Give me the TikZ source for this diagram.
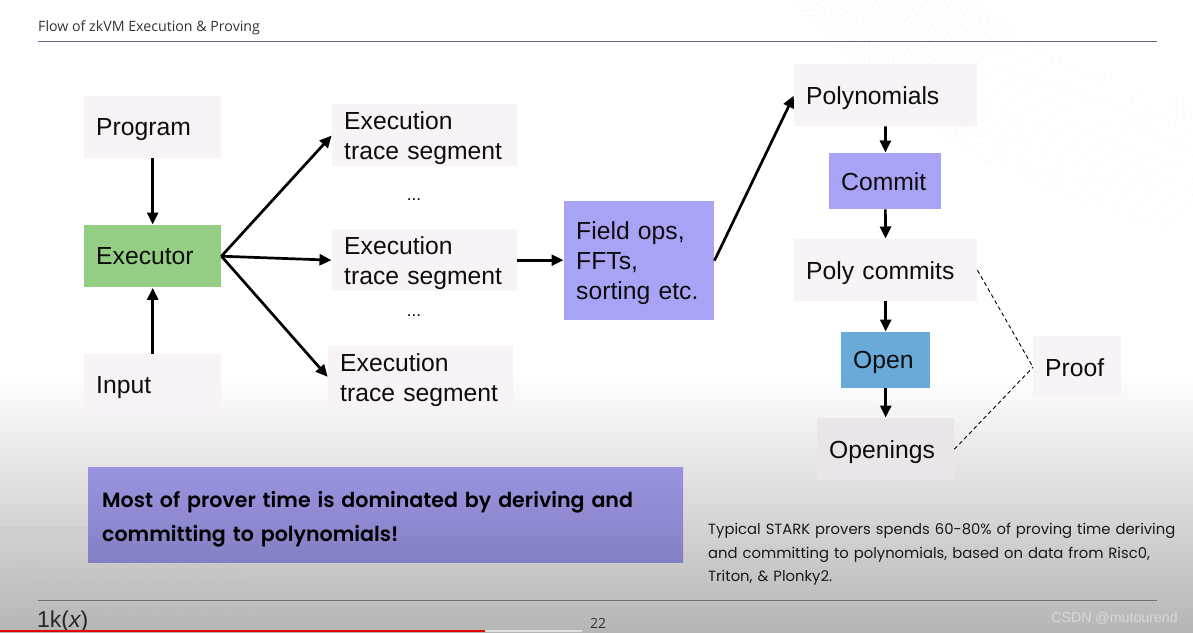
\documentclass[tikz,border=0pt]{standalone}
\usepackage{fontspec}
\setmainfont{Liberation Sans}
\newfontfamily\titlefont{Open Sans}
\newfontfamily\popfont{Poppins}[BoldFont={Poppins SemiBold}]
\usetikzlibrary{arrows.meta}
\definecolor{pale}{HTML}{F7F3F7}
\definecolor{palelow}{HTML}{E9E5E9}
\definecolor{greenbox}{HTML}{94CE85}
\definecolor{violetbox}{HTML}{A8A3F5}
\definecolor{bluebox}{HTML}{69AAD8}
\definecolor{calltop}{HTML}{9A94E0}
\definecolor{callbot}{HTML}{8480C4}
\tikzset{
  x=1pt,y=-1pt,
  bx/.style n args={3}{anchor=north west,inner xsep=12pt,inner ysep=0pt,
    text width=#1pt-24pt,minimum height=#2pt,align=left,fill=#3,
    font=\fontsize{24.7}{30}\selectfont,text=black!95,
    execute at end node={\par\kern-\prevdepth}},
  flow/.style={line width=2.7pt,-{Triangle[length=12pt,width=11pt]},shorten >=0.5pt},
  dash link/.style={line width=0.9pt,dash pattern=on 4pt off 3pt},
  rulebar/.style={line width=0.9pt,draw=black!50},
  wave/.style={line width=0.35pt,draw=black!13,dotted},
}
\begin{document}
\begin{tikzpicture}
\useasboundingbox (0,0) rectangle (1193,632);
% background
\fill[white] (0,0) rectangle (1193,632);
\shade[top color=white,bottom color=black!29,shading angle=0] (0,375) rectangle (1193,632);
% faint arc pattern
\begin{scope}
\clip (790,0) .. controls (850,70) and (920,125) .. (1000,170) .. controls (1070,205) and (1130,225) .. (1193,245) -- (1193,100) .. controls (1090,70) and (1030,40) .. (975,0) -- cycle;
\foreach \i in {0,1,...,50} \draw[wave] (790+\i*6,-70+\i*4) circle[radius=70+\i*1.2];
\end{scope}
\begin{scope}
\clip (0,522) rectangle (300,632);
\foreach \i in {0,1,...,36} \draw[wave,draw=black!24] (-80+\i*6,662) circle[radius=135];
\end{scope}
% title and rules
\node[anchor=base west,inner sep=0pt,text=black!80,font=\titlefont\fontsize{14.2}{17}\selectfont] (title) at (38,31) {Flow of zkVM Execution \& Proving};
\coordinate (hl) at (38,41); \coordinate (hr) at (1157,41);
\coordinate (fl) at (38,600); \coordinate (fr) at (1157,600);
\draw[rulebar,draw=black!45!blue!20!gray] (hl) -- (hr);
\draw[rulebar,draw=black!55] (fl) -- (fr);
% nodes
\node[bx={137}{62}{pale}] (prog) at (84,96) {Program};
\node[bx={137}{62}{greenbox}] (exe) at (84,225) {Executor};
\node[bx={137}{62}{pale}] (inp) at (84,354) {Input};
\node[bx={185}{62}{pale}] (seg1) at (332,104) {Execution\\trace segment};
\node[bx={185}{62}{pale}] (seg2) at (332,229) {Execution\\trace segment};
\node[bx={185}{62}{pale}] (seg3) at (328,346) {Execution\\trace segment};
\node[inner sep=0pt,font=\fontsize{17}{18}\selectfont] (dots1) at (414,200) {...};
\node[inner sep=0pt,font=\fontsize{17}{18}\selectfont] (dots2) at (414,316) {...};
\node[bx={150}{119}{violetbox}] (field) at (564,201) {Field ops,\\FFTs,\\sorting etc.};
\node[bx={183}{62}{pale}] (poly) at (794,64) {Polynomials};
\node[bx={112}{56}{violetbox}] (commit) at (829,153) {Commit};
\node[bx={183}{62}{pale}] (pcom) at (794,239) {Poly commits};
\node[bx={89}{56}{bluebox}] (open) at (841,332) {Open};
\node[bx={137}{62}{palelow}] (opng) at (817,418) {Openings};
\node[bx={88}{62}{pale}] (proof) at (1033,336) {Proof};
% connectors
\draw[flow] (prog) -- (exe);
\draw[flow] (inp) -- (exe);
\draw[flow] (exe.east) -- (seg1.west);
\draw[flow] (exe.east) -- (seg2.west);
\draw[flow] (exe.east) -- (seg3.west);
\draw[flow] (seg2.east) -- (field.west |- seg2.east);
\draw[flow] (field.east) -- (poly.west);
\draw[flow] (poly) -- (commit);
\draw[flow] (commit) -- (pcom);
\draw[flow] (pcom) -- (open);
\draw[flow] (open) -- (opng);
\draw[dash link] (pcom.east) -- (proof.west);
\draw[dash link] (opng.east) -- (proof.west);
% callout
\shade[top color=calltop,bottom color=callbot] (88,467) rectangle (683,562);
\node[anchor=north west,inner sep=0pt,text width=575pt,align=left,text=black,font=\popfont\bfseries\fontsize{20.6}{34}\selectfont] (call) at (102,491) {Most of prover time is dominated by deriving and\\committing to polynomials!};
% note
\node[anchor=north west,inner sep=0pt,text width=480pt,align=left,text=black!90,font=\popfont\fontsize{14.8}{23.5}\selectfont] (note) at (708,523) {Typical STARK provers spends 60-80\% of proving time deriving\\and committing to polynomials, based on data from Risc0,\\Triton, \& Plonky2.};
% footer
\node[anchor=base west,inner sep=0pt,text=black!85,font=\fontsize{23}{24}\selectfont] (logo) at (37,627) {1k($\mathit{x}$)};
\node[anchor=base,inner sep=0pt,text=black!80,font=\titlefont\fontsize{14}{16}\selectfont] (pg) at (598,628) {22};
\node[anchor=base east,inner sep=0pt,text=white!85!black,font=\fontsize{14.2}{16}\selectfont] (mark) at (1178,622) {CSDN @mutourend};
\fill[white!88!black] (485,630) rectangle (582,632);
\fill[red!90!black] (0,630) rectangle (485,632);
\end{tikzpicture}
\end{document}
